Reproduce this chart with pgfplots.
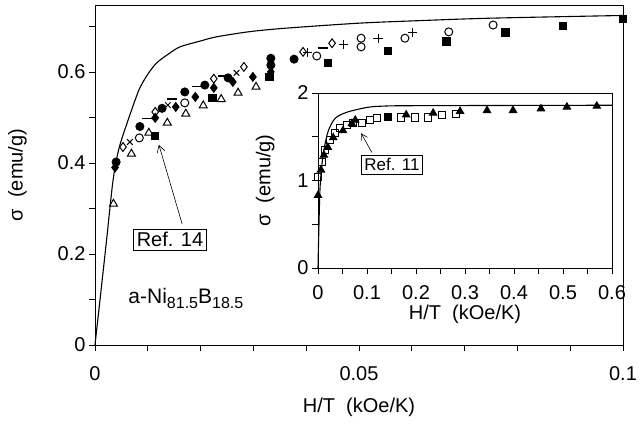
\documentclass[border=0pt]{standalone}
\usepackage{fontspec}
\setmainfont{Liberation Sans}
\usepackage{pgfplots}
\pgfplotsset{compat=1.18}
\usetikzlibrary{arrows.meta}

\pgfplotsset{
  common/.style={
    scale only axis,
    axis line style={line width=0.9pt},
    tick style={line width=0.8pt, black},
    tick align=outside,
    xtick pos=left, ytick pos=left,
    major tick length=6pt, minor tick length=6pt,
    /pgf/number format/assume math mode=true,
    /pgf/number format/fixed,
    /pgf/number format/precision=2,
    clip=false,
  },
  pts/.style={only marks, black, mark size=4pt, line width=1pt},
}
\newcommand{\sub}[1]{\raisebox{-5pt}{\fontsize{16}{16}\selectfont #1}}

\begin{document}
\begin{tikzpicture}[font=\fontsize{20}{23}\selectfont]
\path[use as bounding box] (-95pt,-81pt) rectangle (546pt,345pt);

% main panel
\begin{axis}[common,
  at={(0pt,0pt)}, anchor=south west,
  width=528pt, height=340pt,
  xmin=0, xmax=0.1, ymin=0, ymax=0.747,
  xtick={0,0.05,0.1}, minor xtick={0.01,0.02,0.03,0.04,0.06,0.07,0.08,0.09},
  ytick={0,0.2,0.4,0.6}, minor ytick={0.1,0.3,0.5,0.7},
  xticklabel style={yshift=-12pt},
  xlabel={H/T\ \ (kOe/K)},
  xlabel style={yshift=-10pt},
  ylabel={σ\ \ (emu/g)},
  ylabel style={yshift=24pt},
]
% calculated curve
\addplot[black, line width=1.1pt, smooth, tension=0.5] coordinates {
  (0,0) (0.002,0.21) (0.0034,0.36) (0.0045,0.43) (0.006,0.485) (0.0075,0.535)
  (0.0085,0.565) (0.01,0.595) (0.0117,0.62) (0.014,0.64) (0.0161,0.655)
  (0.02,0.668) (0.023,0.677) (0.029,0.688) (0.035,0.695) (0.0445,0.703)
  (0.0515,0.708) (0.06,0.712) (0.0748,0.718) (0.1,0.724)
};
% Ref. 14 filled squares
\addplot[pts, mark=square*, mark size=3.8pt] coordinates {
  (0.0114,0.459) (0.0223,0.543) (0.0331,0.589) (0.0441,0.62) (0.0555,0.646)
  (0.0666,0.667) (0.0777,0.686) (0.0886,0.701) (0.1,0.716)
};
% open triangles
\addplot[pts, mark=triangle, mark size=4.6pt] coordinates {
  (0.0035,0.31) (0.0069,0.42) (0.0102,0.466) (0.0137,0.488) (0.0172,0.508)
  (0.0205,0.526) (0.0239,0.540) (0.0271,0.554) (0.0305,0.567)
};
% filled circles
\addplot[pts, mark=*] coordinates {
  (0.0040,0.402) (0.0085,0.48) (0.0127,0.52) (0.017,0.556) (0.0208,0.571)
  (0.0252,0.587) (0.0333,0.63) (0.0333,0.615) (0.0377,0.628)
};
% filled diamonds
\addplot[pts, mark=diamond*, mark size=4.4pt] coordinates {
  (0.0038,0.390) (0.0114,0.499) (0.0153,0.523) (0.019,0.545) (0.0225,0.565)
  (0.0261,0.578) (0.0299,0.589) (0.0333,0.60)
};
% open diamonds
\addplot[pts, mark=diamond, mark size=4.4pt] coordinates {
  (0.0053,0.435) (0.0114,0.512) (0.0225,0.585) (0.0282,0.611) (0.0394,0.644)
  (0.0449,0.663)
};
% open circles
\addplot[pts, mark=o] coordinates {
  (0.0084,0.455) (0.017,0.532) (0.042,0.635) (0.0504,0.655) (0.0504,0.674)
  (0.0587,0.674) (0.067,0.688) (0.0754,0.703)
};
% plus
\addplot[pts, mark=+, mark size=4.6pt] coordinates {
  (0.0403,0.642) (0.047,0.66) (0.0536,0.674) (0.0602,0.686)
};
% crosses
\addplot[pts, mark=x, mark size=4pt] coordinates {
  (0.0066,0.446) (0.0138,0.527) (0.0268,0.598)
};
% dashes
\addplot[pts, mark=-, mark size=5pt, line width=1.6pt] coordinates {
  (0.0098,0.498) (0.0146,0.541) (0.0193,0.568) (0.0242,0.591) (0.0432,0.653)
};
\node[draw, line width=0.6pt, inner sep=3.5pt]
  at (axis cs:0.0142,0.231) {Ref. 14};
\draw[line width=0.6pt, -{Straight Barb[length=7pt,width=8pt]}]
  (axis cs:0.0165,0.266) -- (axis cs:0.0121,0.44);
\node[anchor=base west, inner sep=0pt, font=\fontsize{21}{24}\selectfont]
  at (axis cs:0.0063,0.092) {a-Ni\sub{81.5}B\sub{18.5}};
\end{axis}

% inset
\begin{axis}[common,
  at={(223pt,77pt)}, anchor=south west,
  width=294pt, height=175pt,
  axis background/.style={fill=white},
  xmin=0, xmax=0.6, ymin=0, ymax=2,
  xtick={0,0.1,0.2,0.3,0.4,0.5,0.6},
  minor xtick={0.05,0.15,0.25,0.35,0.45,0.55},
  ytick={0,1,2}, minor ytick={0.5,1.5},
  /pgf/number format/precision=1,
  xticklabel style={yshift=-8pt},
  xlabel={H/T\ \ (kOe/K)},
  xlabel style={yshift=2pt},
  ylabel={σ\ \ (emu/g)},
  ylabel style={yshift=16pt},
]
\addplot[black, line width=1.1pt, smooth, tension=0.5] coordinates {
  (0,0) (0.004,0.89) (0.01,1.27) (0.02,1.55) (0.035,1.71) (0.059,1.78)
  (0.1,1.835) (0.133,1.85) (0.2,1.855) (0.6,1.86)
};
% filled triangles
\addplot[pts, mark=triangle*, mark size=4.2pt] coordinates {
  (0.0,0.83) (0.006,1.12) (0.012,1.29) (0.02,1.38) (0.031,1.49) (0.051,1.57)
  (0.069,1.65) (0.076,1.69) (0.18,1.75) (0.235,1.77) (0.29,1.79) (0.345,1.8)
  (0.398,1.8) (0.455,1.82) (0.508,1.84) (0.569,1.85)
};
% open squares
\addplot[pts, mark=square, mark size=3.6pt] coordinates {
  (0.0,1.04) (0.008,1.21) (0.014,1.35) (0.024,1.46) (0.035,1.54) (0.045,1.6)
  (0.059,1.63) (0.071,1.66) (0.09,1.66) (0.106,1.69) (0.12,1.71) (0.169,1.72)
  (0.198,1.72) (0.224,1.72) (0.253,1.75) (0.282,1.76)
};
% filled square
\addplot[pts, mark=square*, mark size=3.6pt] coordinates {(0.143,1.73)};
\node[draw, line width=0.6pt, inner sep=3pt, font=\fontsize{17}{20}\selectfont]
  at (axis cs:0.151,1.18) {Ref. 11};
\draw[line width=0.6pt, -{Straight Barb[length=6pt,width=7pt]}]
  (axis cs:0.11,1.32) -- (axis cs:0.088,1.54);
\end{axis}
\end{tikzpicture}
\end{document}
